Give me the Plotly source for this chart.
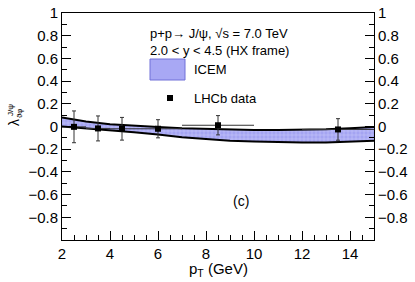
import plotly.graph_objects as go

# ---- data ----
band_pt = [2, 3, 4, 5, 6, 7, 8, 9, 10, 11, 12, 13, 14, 15]
band_upper = [0.08, 0.045, 0.02, 0.005, -0.005, -0.015, -0.022, -0.027, -0.03, -0.03, -0.028, -0.025, -0.015, -0.005]
band_lower = [0.0, -0.015, -0.03, -0.05, -0.07, -0.095, -0.11, -0.125, -0.133, -0.138, -0.14, -0.14, -0.135, -0.125]

data_pt = [2.5, 3.5, 4.5, 6.0, 8.5, 13.5]
data_pt_err = [0.5, 0.5, 0.5, 1.0, 1.5, 1.5]
data_val = [-0.003, -0.017, -0.02, -0.02, 0.011, -0.026]
data_err = [0.14, 0.11, 0.10, 0.08, 0.085, 0.095]

y_ticks = [-0.8, -0.6, -0.4, -0.2, 0, 0.2, 0.4, 0.6, 0.8, 1]
y_tick_text = ["\u22120.8", "\u22120.6", "\u22120.4", "\u22120.2", "0", "0.2", "0.4", "0.6", "0.8", "1"]
x_ticks = [2, 4, 6, 8, 10, 12, 14]

FONT = "Liberation Sans, Arial, sans-serif"
W, H = 415, 282
L, R, T, B = 62, 374, 13, 240  # plot area in window pixels


def px(x):
    return (x - L) / (R - L)


def py(y):
    return (B - y) / (B - T)


fig = go.Figure()

# band polygon
fig.add_trace(go.Scatter(
    x=band_pt + band_pt[::-1],
    y=band_upper + band_lower[::-1],
    fill="toself", mode="lines", line=dict(width=0),
    fillcolor="#a8a8f4",
    fillpattern=dict(shape="+", bgcolor="#a4a4f2", fgcolor="#e4e4ff", size=4, solidity=0.3),
    hoverinfo="skip", showlegend=False,
))
fig.add_trace(go.Scatter(x=band_pt, y=band_upper, mode="lines",
                         line=dict(color="black", width=2), showlegend=False))
fig.add_trace(go.Scatter(x=band_pt, y=band_lower, mode="lines",
                         line=dict(color="black", width=2), showlegend=False))

# data
fig.add_trace(go.Scatter(
    x=data_pt, y=data_val, mode="markers",
    marker=dict(symbol="square", size=6, color="black"),
    error_y=dict(type="data", array=data_err, color="#333333", thickness=1, width=2),
    error_x=dict(type="data", array=data_pt_err, color="#333333", thickness=1, width=0),
    showlegend=False,
))

# dummy trace for right axis
fig.add_trace(go.Scatter(x=[2], y=[0], yaxis="y2", mode="markers",
                         marker=dict(opacity=0), showlegend=False, hoverinfo="skip"))

axis_common = dict(showgrid=False, zeroline=False, showline=True, linecolor="black",
                   linewidth=1, ticks="inside", tickcolor="black", ticklen=9,
                   automargin=False,
                   tickfont=dict(family=FONT, size=15, color="black"))

fig.update_layout(
    width=W, height=H,
    margin=dict(l=L, r=W - R, t=T, b=H - B, autoexpand=False),
    paper_bgcolor="white", plot_bgcolor="white",
    xaxis=dict(range=[2, 15], tickvals=x_ticks, mirror=True,
               minor=dict(dtick=0.5, tick0=2, ticks="inside", ticklen=5, tickcolor="black"),
               **axis_common),
    yaxis=dict(range=[-1, 1], tickvals=y_ticks, ticktext=y_tick_text,
               minor=dict(dtick=0.1, tick0=0, ticks="inside", ticklen=5, tickcolor="black"),
               **axis_common),
    yaxis2=dict(range=[-1, 1], tickvals=y_ticks, ticktext=y_tick_text, overlaying="y",
                side="right", matches="y",
                minor=dict(dtick=0.1, tick0=0, ticks="inside", ticklen=5, tickcolor="black"),
                **axis_common),
    showlegend=False,
)

ann = []


def text(s, x, y, size=13, xanchor="left", angle=0):
    ann.append(dict(text=s, x=px(x), y=py(y), xref="paper", yref="paper",
                    xanchor=xanchor, yanchor="middle", showarrow=False,
                    textangle=angle, font=dict(family=FONT, size=size, color="black")))


text("p+p\u2192 J/\u03c8, \u221as = 7.0 TeV", 148, 33)
text("2.0 &lt; y &lt; 4.5 (HX frame)", 148, 50)
text("ICEM", 192, 70)
text("LHCb data", 192, 98)
text("(c)", 241, 201, size=14, xanchor="center")
text("p<sub>T</sub> (GeV)", 218, 269, size=15, xanchor="center")
text("\u03bb", 14, 123, size=14, xanchor="center", angle=-90)
text("J/\u03c8", 10, 110, size=8, xanchor="center", angle=-90)
text("\u03d1\u03c6", 19, 113, size=8, xanchor="center", angle=-90)
fig.update_layout(annotations=ann)

# legend swatches
fig.add_shape(type="rect", xref="paper", yref="paper",
              x0=px(150), x1=px(185), y0=py(80), y1=py(59),
              fillcolor="#a8a8f4", line=dict(color="#7070d8", width=1))
fig.add_shape(type="rect", xref="paper", yref="paper",
              x0=px(167), x1=px(173), y0=py(101), y1=py(95),
              fillcolor="black", line=dict(width=0))

fig.write_html("out.html", config={"displayModeBar": False},
               post_script="document.body.style.margin='0';document.body.style.padding='0';"
                           "document.body.style.overflow='hidden';")
